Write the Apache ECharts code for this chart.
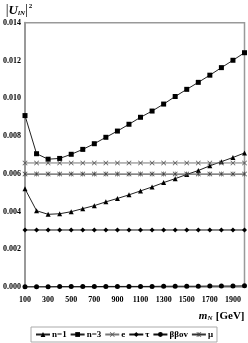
<!DOCTYPE html>
<html>
<head>
<meta charset="utf-8">
<script src="https://cdn.jsdelivr.net/npm/echarts@6/dist/echarts.min.js"></script>
<style>html,body{margin:0;padding:0;background:#fff}#c{width:248px;height:343px}</style>
</head>
<body>
<div id="c"></div>
<script>
const categories = ['100','200','300','400','500','600','700','800','900','1000','1100','1200','1300','1400','1500','1600','1700','1800','1900','2000'];
const n1 = [0.00520,0.00404,0.00385,0.00388,0.00399,0.00415,0.00431,0.00451,0.00469,0.00488,0.00509,0.00530,0.00553,0.00574,0.00596,0.00617,0.00642,0.00664,0.00686,0.00710];
const n3 = [0.00908,0.00706,0.00677,0.00681,0.00703,0.00729,0.00759,0.00793,0.00826,0.00862,0.00899,0.00932,0.00969,0.01009,0.01047,0.01084,0.01122,0.01162,0.01201,0.01241];
const eVals = [0.00657,0.00657,0.00657,0.00657,0.00657,0.00657,0.00657,0.00657,0.00657,0.00657,0.00657,0.00657,0.00657,0.00657,0.00657,0.00657,0.00657,0.00657,0.00657,0.00657];
const tauVals = [0.00302,0.00302,0.00302,0.00302,0.00302,0.00302,0.00302,0.00302,0.00302,0.00302,0.00302,0.00302,0.00302,0.00302,0.00302,0.00302,0.00302,0.00302,0.00302,0.00302];
const bb0v = [0.00001,0.00001,0.00001,0.00002,0.00002,0.00002,0.00002,0.00003,0.00003,0.00003,0.00003,0.00003,0.00004,0.00004,0.00004,0.00004,0.00005,0.00005,0.00005,0.00006];
const muVals = [0.00598,0.00598,0.00598,0.00598,0.00598,0.00598,0.00598,0.00598,0.00598,0.00598,0.00598,0.00598,0.00598,0.00598,0.00598,0.00598,0.00598,0.00598,0.00598,0.00598];
const seriesNames = ['n=1','n=3','e','\u03c4','\u03b2\u03b2ov','\u03bc'];

const FONT = '"Liberation Serif", "DejaVu Serif", serif';
const crossPath = 'path://M0,1L1,0L5,4L9,0L10,1L6,5L10,9L9,10L5,6L1,10L0,9L4,5Z';
const starPath = 'path://M0,1L1,0L5,4L9,0L10,1L6,5L10,9L9,10L5,6L1,10L0,9L4,5ZM4.4,0L5.6,0L5.6,10L4.4,10Z';

const chart = echarts.init(document.getElementById('c'), null, {renderer: 'canvas'});
chart.setOption({
  animation: false,
  backgroundColor: '#fff',
  grid: {left: 24, right: 3.5, top: 22.7, bottom: 56, show: true, borderColor: '#999', borderWidth: 1.5, backgroundColor: 'transparent'},
  xAxis: {
    type: 'category', data: categories, boundaryGap: false,
    axisLine: {show: false}, axisTick: {show: false},
    axisLabel: {interval: 1, margin: 9, fontFamily: FONT, fontWeight: 'bold', fontSize: 8, color: '#000'},
    name: '{i|m}{s|N} {t|[GeV]}', nameLocation: 'end', nameGap: 0,
    nameTextStyle: {align: 'right', verticalAlign: 'top', padding: [23, 0, 0, 0],
      rich: {
        i: {fontFamily: FONT, fontStyle: 'italic', fontWeight: 'bold', fontSize: 11, color: '#000'},
        s: {fontFamily: FONT, fontStyle: 'italic', fontWeight: 'bold', fontSize: 7, color: '#000', padding: [5, 0, 0, 0]},
        t: {fontFamily: FONT, fontWeight: 'bold', fontSize: 11, color: '#000'}
      }}
  },
  yAxis: {
    type: 'value', min: 0, max: 0.014, interval: 0.002,
    axisLine: {show: true, lineStyle: {color: '#999', width: 2}}, axisTick: {show: false},
    splitLine: {show: false},
    axisLabel: {margin: 4, fontFamily: FONT, fontWeight: 'bold', fontSize: 8, color: '#000', formatter: v => v.toFixed(3)},
    name: '{b||}{i|U}{s|lN}{b||}{p|2}', nameLocation: 'end', nameGap: 5,
    nameTextStyle: {align: 'center', padding: [0, 12, 0, 0],
      rich: {
        b: {fontFamily: FONT, fontSize: 14, color: '#000'},
        i: {fontFamily: FONT, fontStyle: 'italic', fontWeight: 'bold', fontSize: 13, color: '#000'},
        s: {fontFamily: FONT, fontStyle: 'italic', fontWeight: 'bold', fontSize: 7, color: '#000', padding: [6, 0, 0, 0]},
        p: {fontFamily: FONT, fontWeight: 'bold', fontSize: 7, color: '#000', padding: [0, 0, 8, 1]}
      }}
  },
  legend: {
    left: 31, bottom: 1, orient: 'horizontal',
    borderColor: '#aaa', borderWidth: 1, padding: [3, 4, 3, 4],
    itemWidth: 14, itemHeight: 6, itemGap: 3,
    textStyle: {fontFamily: FONT, fontWeight: 'bold', fontSize: 9, color: '#000', padding: [0, 0, 0, -3]},
    data: seriesNames
  },
  series: [
    {name: seriesNames[0], type: 'line', data: n1, symbol: 'triangle', symbolSize: 5, lineStyle: {color: '#222', width: 1}, itemStyle: {color: '#000'}},
    {name: seriesNames[1], type: 'line', data: n3, symbol: 'rect', symbolSize: 5, lineStyle: {color: '#222', width: 1}, itemStyle: {color: '#000'}},
    {name: seriesNames[2], type: 'line', data: eVals, symbol: crossPath, symbolSize: 5, lineStyle: {color: '#777', width: 1}, itemStyle: {color: '#555'}},
    {name: seriesNames[3], type: 'line', data: tauVals, symbol: 'diamond', symbolSize: 5, lineStyle: {color: '#111', width: 1}, itemStyle: {color: '#000'}},
    {name: seriesNames[4], type: 'line', data: bb0v, symbol: 'circle', symbolSize: 5, lineStyle: {color: '#111', width: 1}, itemStyle: {color: '#000'}},
    {name: seriesNames[5], type: 'line', data: muVals, symbol: starPath, symbolSize: 5, lineStyle: {color: '#333', width: 1}, itemStyle: {color: '#444'}}
  ]
});
</script>
</body>
</html>
